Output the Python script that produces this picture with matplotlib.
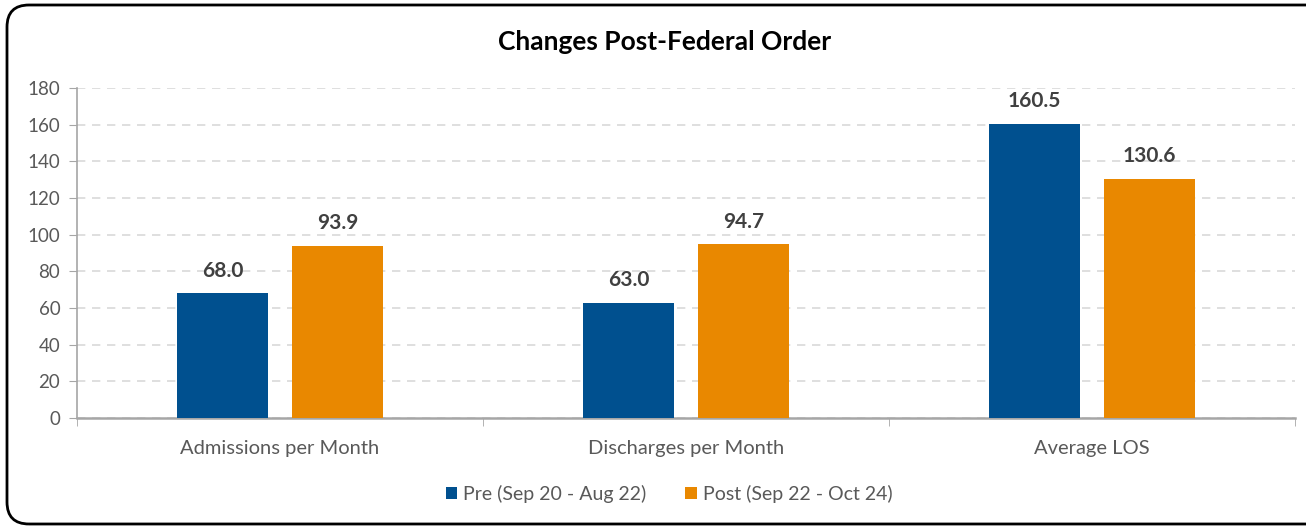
import matplotlib
matplotlib.use('Agg')
import matplotlib.pyplot as plt
from matplotlib.patches import FancyBboxPatch
import numpy as np

categories = ['Admissions per Month', 'Discharges per Month', 'Average LOS']
pre_values = [68.0, 63.0, 160.5]
post_values = [93.9, 94.7, 130.6]
series_names = ['Pre (Sep 20 - Aug 22)', 'Post (Sep 22 - Oct 24)']
colors = ['#00508f', '#e98800']

plt.rcParams['font.family'] = ['Lato', 'DejaVu Sans']

W, H = 1306, 528
fig = plt.figure(figsize=(W / 100, H / 100), dpi=100)
ax = fig.add_axes([77 / W, 1 - 418 / H, (1295 - 77) / W, (418 - 88) / H])

x = np.arange(len(categories))
width = 0.224
off = 0.1416
r1 = ax.bar(x - off, pre_values, width, color=colors[0], label=series_names[0], zorder=3)
r2 = ax.bar(x + off, post_values, width, color=colors[1], label=series_names[1], zorder=3)

for rects in (r1, r2):
    ax.bar_label(rects, fmt='%.1f', padding=9, fontsize=15, fontweight='bold', color='#404040')

ax.set_xlim(-0.5, 2.5)
ax.set_ylim(0, 180)
ax.set_yticks(range(0, 181, 20))
ax.tick_params(axis='y', labelsize=13.5, labelcolor='#595959', color='#a6a6a6', length=6, pad=6)
ax.set_xticks(x)
ax.set_xticklabels(categories)
ax.tick_params(axis='x', labelsize=14.5, labelcolor='#595959', length=0, pad=16)
ax.set_xticks([-0.5, 0.5, 1.5, 2.5], minor=True)
ax.tick_params(axis='x', which='minor', length=6, color='#a6a6a6')

ax.grid(axis='y', color='#d9d9d9', linestyle=(0, (5, 4)), linewidth=1.2, zorder=0)
for s in ['top', 'right']:
    ax.spines[s].set_visible(False)
ax.spines['left'].set_color('#a6a6a6')
ax.spines['bottom'].set_color('#a6a6a6')
ax.spines['left'].set_linewidth(1.2)
ax.spines['bottom'].set_linewidth(1.8)

fig.text(665 / W, 1 - 42 / H, 'Changes Post-Federal Order', ha='center', va='center',
         fontsize=19, fontweight='bold', color='black')

fig.legend(loc='center', bbox_to_anchor=(669 / W, 1 - 494 / H), ncol=2, frameon=False,
           fontsize=14, labelcolor='#595959', handlelength=0.6, handleheight=0.6,
           handletextpad=0.3, columnspacing=2.0)

# rounded chart border, in pixel coordinates
border = FancyBboxPatch((7, 4), 1340, 519,
                        boxstyle='round,pad=0,rounding_size=22',
                        transform=None, fill=False, edgecolor='black',
                        linewidth=2, clip_on=False)
fig.patches.append(border)

fig.savefig('out.png', dpi=100)
